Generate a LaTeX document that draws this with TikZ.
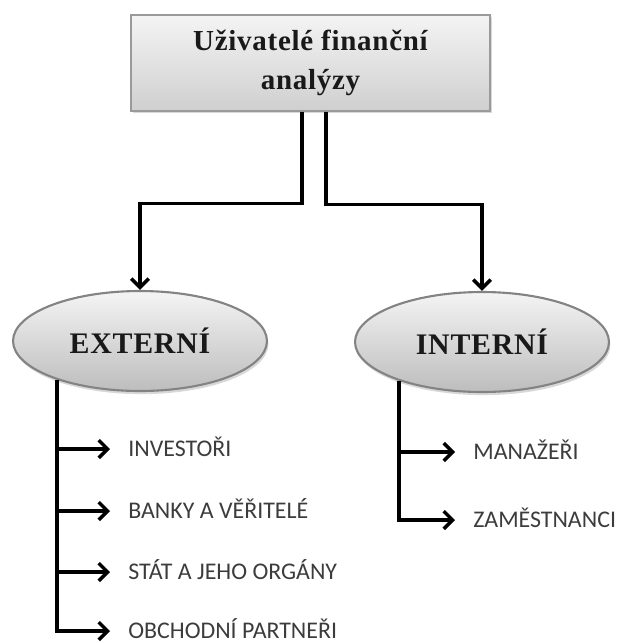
\documentclass[tikz,border=0pt]{standalone}
\usepackage{fontspec}
\setmainfont{Liberation Serif}
\newfontfamily\headfont[LetterSpace=2.5]{Liberation Serif}
\newfontfamily\labelfont{Carlito}
\usetikzlibrary{arrows.meta,shapes.geometric,shadows}
\definecolor{UsersGrayTop}{HTML}{F4F4F4}
\definecolor{UsersGrayBottom}{HTML}{CFCFCF}
\definecolor{UsersEllipseBottom}{HTML}{BDBDBD}
\definecolor{UsersBorder}{HTML}{9A9A9A}
\definecolor{UsersText}{HTML}{3C3C3C}

\begin{document}
\begin{tikzpicture}[
  x=0.02cm, y=-0.02cm,
  head/.style={draw=UsersBorder, line width=0.8pt, top color=UsersGrayTop,
    bottom color=UsersGrayBottom, align=center, minimum width=7.18cm, minimum height=1.92cm,
    font=\headfont\fontsize{16.5}{22}\selectfont\bfseries, text=black!90,
    drop shadow={shadow xshift=1.2pt, shadow yshift=-1.2pt, fill=black!30}},
  group/.style={ellipse, draw=UsersBorder!85!black, line width=1.2pt, top color=UsersGrayTop,
    bottom color=UsersEllipseBottom, minimum width=5.08cm, minimum height=2cm, inner sep=0pt,
    font=\headfont\fontsize{17}{20}\selectfont\bfseries, text=black!90,
    drop shadow={shadow xshift=0.8pt, shadow yshift=-1.8pt, fill=black!30}},
  item/.style={anchor=west, inner sep=0pt, text height=8.7pt, text depth=0pt,
    font=\labelfont\fontsize{13.6}{15}\selectfont, text=UsersText},
  arr/.style={-{Straight Barb[length=5pt, width=10pt]}, line width=2pt},
  sub/.style={arr, shorten >=0.36cm}
]
\useasboundingbox (0,0) rectangle (620,643);

\node[head] (title) at (310.5,63) {Uživatelé finanční\\analýzy};
\node[group] (ext) at (140,341) {EXTERNÍ};
\node[group] (int) at (482,342) {INTERNÍ};

\node[item] (inv) at (128,449) {INVESTOŘI};
\node[item] (bank) at (128,511) {BANKY A VĚŘITELÉ};
\node[item] (stat) at (128,572) {STÁT A JEHO ORGÁNY};
\node[item] (obch) at (128,631) {OBCHODNÍ PARTNEŘI};
\node[item] (man) at (473,452) {MANAŽEŘI};
\node[item] (zam) at (473,520) {ZAMĚSTNANCI};

\draw[arr] ([xshift=-0.17cm]title.south) -- ++(0,92) -| (ext.north);
\draw[arr] ([xshift=0.31cm]title.south) -- ++(0,93) -| (int.north);

% externi
\draw[sub] (ext.205) |- (obch.west);
\draw[sub] (ext.205 |- inv.west) -- (inv.west);
\draw[sub] (ext.205 |- bank.west) -- (bank.west);
\draw[sub] (ext.205 |- stat.west) -- (stat.west);

% interni
\draw[sub] (int.205) |- (zam.west);
\draw[sub] (int.205 |- man.west) -- (man.west);
\end{tikzpicture}
\end{document}
